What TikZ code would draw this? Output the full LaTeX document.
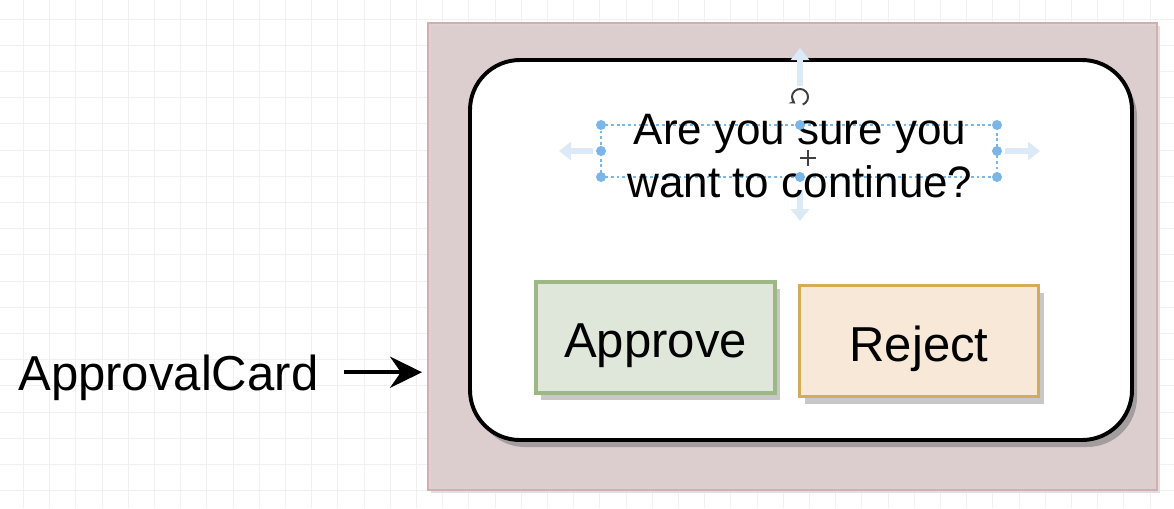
\documentclass[tikz,border=0pt]{standalone}
\usepackage{fontspec}
\setmainfont{Liberation Sans}
\usetikzlibrary{arrows.meta, positioning, shadows}

\definecolor{framefill}{HTML}{DCCCCD}
\definecolor{framedraw}{HTML}{D3AEB1}
\definecolor{cardshadow}{HTML}{A39D9E}
\definecolor{approvefill}{HTML}{DFE7DA}
\definecolor{approvedraw}{HTML}{9DB884}
\definecolor{rejectfill}{HTML}{F7E8D7}
\definecolor{rejectdraw}{HTML}{D4AC58}
\definecolor{btnshadow}{HTML}{C8C8C8}
\definecolor{handleblue}{HTML}{7AB6E8}
\definecolor{ghostblue}{HTML}{DCEAF8}
\definecolor{gridgray}{HTML}{F0F0F0}

\begin{document}
\begin{tikzpicture}[x=0.025cm, y=-0.025cm,
	bigtext/.style={font=\fontsize{34.9}{42}\selectfont},
	asktext/.style={font=\fontsize{31.3}{37.7}\selectfont, align=center},
	button/.style={draw, line width=2.2pt, bigtext, text depth=0pt, text height=40*\unit,
		minimum width=239*\unit, minimum height=111*\unit,
		drop shadow={shadow xshift=5*\unit, shadow yshift=-7*\unit, fill=btnshadow, opacity=1}},
	pointer/.style={line width=2.6pt, -{Stealth[length=0.8cm, width=0.78cm, inset=0.27cm]}},
	ghost/.style={ghostblue, line width=0.15cm, -{Triangle[length=0.3cm, width=0.45cm]}},
	handle/.style={fill=handleblue}]

	% Dimensions
	\def\unit{0.025cm}

	% Canvas and grid
	\useasboundingbox (0,0) rectangle (1174,508);
	\fill[white] (0,0) rectangle (1174,508);
	\begin{scope}[shift={(23.3,19)}]
		\draw[gridgray, line width=0.5pt, step=26.2*\unit] (-23.3,489) grid (1150.7,-19);
	\end{scope}

	% Frame
	\node[draw=framedraw, line width=1.4pt, fill=framefill, fill opacity=0.88,
		minimum width=729*\unit, minimum height=467*\unit,
		drop shadow={shadow xshift=3*\unit, shadow yshift=-3*\unit, fill=black!12, opacity=1}]
		(frame) at (792.5,256.5) {};

	% Card
	\node[draw, line width=2.8pt, fill=white, rounded corners=50*\unit,
		minimum width=662*\unit, minimum height=380*\unit,
		drop shadow={shadow xshift=5*\unit, shadow yshift=-7*\unit, fill=cardshadow, opacity=1}]
		(card) at (801,250) {};

	% Selection guides
	\draw[ghost] (800,86) -- (800,48);
	\draw[ghost] (800,190) -- (800,221);
	\draw[ghost] (593,151) -- (559,151);
	\draw[ghost] (1005,151) -- (1040,151);
	\draw[handleblue, line width=0.8pt, dash pattern=on 2pt off 2pt] (601,125) rectangle (997,177);

	% Question
	\node[asktext] (ask) at (800,156) {Are you sure you\\want to continue?};

	% Handles
	\fill[handle] (601,125) circle (5*\unit) (800,125) circle (5*\unit) (997,125) circle (5*\unit)
		(601,151) circle (5*\unit) (997,151) circle (5*\unit)
		(601,177) circle (5*\unit) (800,177) circle (5*\unit) (997,177) circle (5*\unit);
	\coordinate (rot) at (800,97);
	\draw[black!75, line width=1.4pt, -{Stealth[length=4pt, width=5pt]}]
		([shift={(-70:8*\unit)}]rot) arc[start angle=-70, end angle=235, radius=8*\unit];
	\draw[black!75, line width=1.2pt] (800,158) -- (816,158) (808,150) -- (808,166);

	% Buttons
	\node[button, draw=approvedraw, fill=approvefill] (approve) at (655.5,337.5) {Approve};
	\node[button, draw=rejectdraw, fill=rejectfill] (reject) at (919,341) {Reject};

	% Label
	\node[bigtext, anchor=base west, inner sep=0pt, text depth=0pt] (cardlabel) at (18,390) {ApprovalCard};
	\draw[pointer, shorten <=25*\unit, shorten >=5*\unit] (cardlabel.east) -- (cardlabel.east -| frame.west);

\end{tikzpicture}
\end{document}
